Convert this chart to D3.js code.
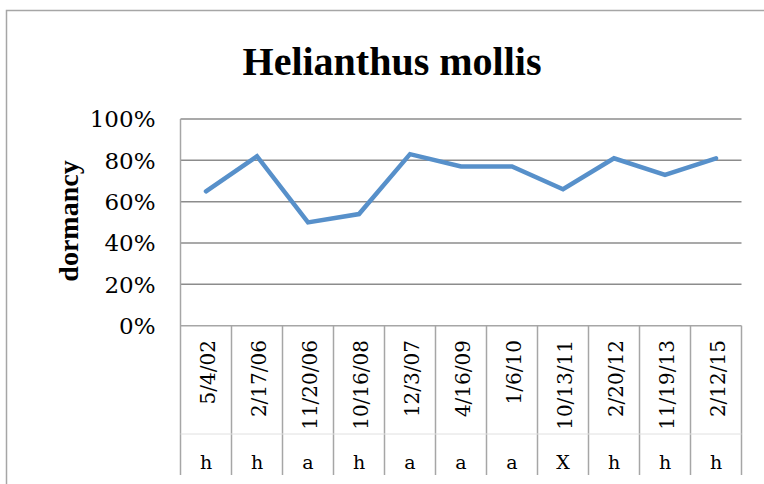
<!DOCTYPE html>
<html>
<head>
<meta charset="utf-8">
<script src="https://cdn.jsdelivr.net/npm/d3@7"></script>
<style>
  html, body { margin: 0; padding: 0; background: #fff; }
  svg { display: block; }
</style>
</head>
<body>
<svg id="chart" width="764" height="484"></svg>
<script>
const title = "Helianthus mollis";
const yAxisTitle = "dormancy";
const dates = ["5/4/02", "2/17/06", "11/20/06", "10/16/08", "12/3/07", "4/16/09", "1/6/10", "10/13/11", "2/20/12", "11/19/13", "2/12/15"];
const groups = ["h", "h", "a", "h", "a", "a", "a", "X", "h", "h", "h"];
const dormancy = [0.65, 0.82, 0.50, 0.54, 0.83, 0.77, 0.77, 0.66, 0.81, 0.73, 0.81];
const yTicks = [0, 0.2, 0.4, 0.6, 0.8, 1.0];

const svg = d3.select("#chart");
const W = 764, H = 484;
const plot = { left: 180.5, right: 741.5, top: 119, bottom: 325.7 };

// outer chart border (left + top visible)
svg.append("path")
  .attr("d", `M6.5,${H} L6.5,10.5 L${W},10.5`)
  .attr("fill", "none").attr("stroke", "#a6a6a6").attr("stroke-width", 1.5);

const x = d3.scaleBand().domain(d3.range(dates.length)).range([plot.left, plot.right]);
const y = d3.scaleLinear().domain([0, 1]).range([plot.bottom, plot.top]);

// title
svg.append("text")
  .attr("x", 392).attr("y", 75)
  .attr("text-anchor", "middle")
  .attr("font-family", "'Liberation Serif', serif")
  .attr("font-weight", "bold")
  .attr("font-size", 40)
  .text(title);

// gridlines
svg.append("g").selectAll("line").data(yTicks.filter(d => d > 0)).join("line")
  .attr("x1", plot.left).attr("x2", plot.right)
  .attr("y1", d => y(d)).attr("y2", d => y(d))
  .attr("stroke", "#8c8c8c").attr("stroke-width", 1.5);

// y axis via d3 axis
const yAxis = d3.axisLeft(y).tickValues(yTicks).tickFormat(d3.format(".0%")).tickSize(0).tickPadding(25);
const yg = svg.append("g").attr("transform", `translate(${plot.left},0)`).call(yAxis);
yg.select(".domain").remove();
yg.selectAll("text")
  .attr("font-family", "'DejaVu Serif', serif")
  .attr("font-size", 23)
  .attr("fill", "#000")
  .attr("dy", "0.34em");

// y axis line (extends into category table)
svg.append("line")
  .attr("x1", plot.left).attr("x2", plot.left)
  .attr("y1", plot.top).attr("y2", 475)
  .attr("stroke", "#a6a6a6").attr("stroke-width", 1.5);

// category axis line
svg.append("line")
  .attr("x1", plot.left).attr("x2", plot.right)
  .attr("y1", plot.bottom).attr("y2", plot.bottom)
  .attr("stroke", "#a6a6a6").attr("stroke-width", 1.5);

// category table vertical dividers
const edges = d3.range(1, dates.length + 1).map(i => plot.left + x.step() * i);
svg.append("g").selectAll("line").data(edges).join("line")
  .attr("x1", d => d).attr("x2", d => d)
  .attr("y1", plot.bottom).attr("y2", 475)
  .attr("stroke", "#a6a6a6").attr("stroke-width", 1.5);

// separator between levels
svg.append("line")
  .attr("x1", plot.left).attr("x2", plot.right)
  .attr("y1", 434).attr("y2", 434)
  .attr("stroke", "#e0e0e0").attr("stroke-width", 1);

// date labels (rotated)
svg.append("g").selectAll("text").data(dates).join("text")
  .attr("transform", (d, i) => `translate(${x(i) + x.bandwidth() / 2 + 2},340) rotate(-90)`)
  .attr("text-anchor", "end")
  .attr("dominant-baseline", "central")
  .attr("font-family", "'DejaVu Serif', serif")
  .attr("font-size", 20)
  .text(d => d);

// group labels
svg.append("g").selectAll("text").data(groups).join("text")
  .attr("x", (d, i) => x(i) + x.bandwidth() / 2)
  .attr("y", 469)
  .attr("text-anchor", "middle")
  .attr("font-family", "'DejaVu Serif', serif")
  .attr("font-size", 19)
  .text(d => d);

// y axis title
svg.append("text")
  .attr("transform", "translate(68,221) rotate(-90)")
  .attr("text-anchor", "middle")
  .attr("dominant-baseline", "central")
  .attr("font-family", "'Liberation Serif', serif")
  .attr("font-weight", "bold")
  .attr("font-size", 28)
  .text(yAxisTitle);

// line series
const line = d3.line()
  .x((d, i) => x(i) + x.bandwidth() / 2)
  .y(d => y(d));
svg.append("path")
  .datum(dormancy)
  .attr("d", line)
  .attr("fill", "none")
  .attr("stroke", "#5790CA")
  .attr("stroke-width", 4.5)
  .attr("stroke-linejoin", "miter")
  .attr("stroke-linecap", "round");
</script>
</body>
</html>
